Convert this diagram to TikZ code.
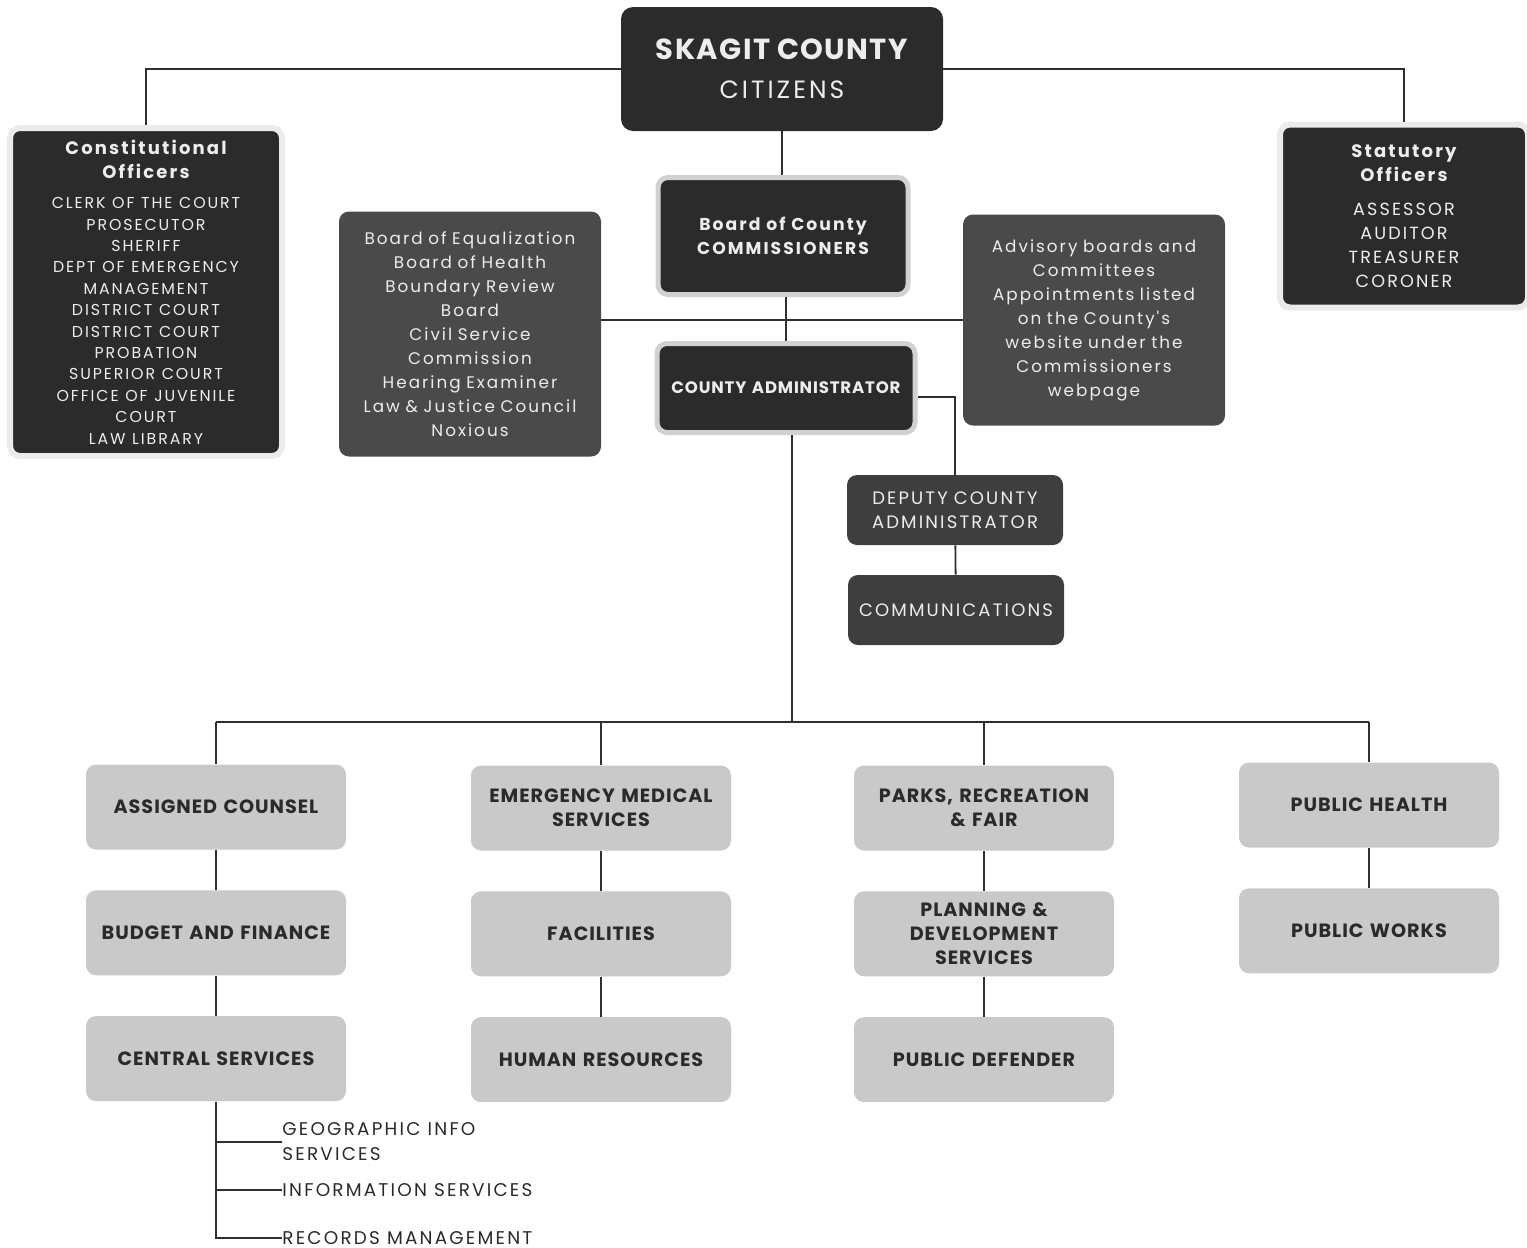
\documentclass[tikz,border=0pt]{standalone}
\usepackage{fontspec}
\setmainfont{Poppins}[LetterSpace=5]
\newfontfamily\widefont{Poppins}[LetterSpace=12]
\usetikzlibrary{positioning}
\definecolor{boxdark}{HTML}{2B2B2B}
\definecolor{boxmid}{HTML}{4A4A4A}
\definecolor{boxdeputy}{HTML}{3E3E3E}
\definecolor{boxlight}{HTML}{C9C9C9}
\definecolor{textlight}{HTML}{EDEDED}
\definecolor{textdark}{HTML}{2A2A2A}
\definecolor{linegray}{HTML}{2F2F2F}

\begin{document}
\begin{tikzpicture}[x=0.5pt, y=-0.5pt, node distance=20pt,
  box/.style={rectangle, rounded corners=5pt, align=center, inner sep=2pt},
  dark/.style={box, fill=boxdark, text=textlight},
  mid/.style={box, fill=boxmid, text=textlight},
  deputybox/.style={box, fill=boxdeputy, text=textlight, minimum width=107pt, minimum height=35pt, text width=104pt, font=\widefont\fontsize{9}{12}\selectfont},
  lite/.style={box, fill=boxlight, text=textdark, minimum width=129.5pt, minimum height=42.5pt, text width=126pt, font=\fontsize{9.6}{12}\selectfont\bfseries},
  glow/.style={draw=black!18, line width=2.5pt},
  halo/.style={draw=black!8, line width=3pt},
  subitem/.style={anchor=west, inner sep=0pt, align=left, text=textdark, font=\widefont\fontsize{9.2}{12.5}\selectfont},
  conn/.style={draw=linegray, line width=0.9pt}]

\useasboundingbox (0,0) rectangle (1527,1248);

% top of the chart
\node (citizens) [dark, minimum width=161pt, minimum height=62pt, text width=157pt, rounded corners=6pt] at (782,69) {{\fontsize{14.5}{19.5}\selectfont\bfseries SKAGIT COUNTY\par}{\widefont\fontsize{12.5}{19.5}\selectfont CITIZENS\par}};
\node (constoff) [dark, halo, minimum width=134.5pt, minimum height=164pt, text width=132pt] at (146,292) {{\widefont\fontsize{9}{12}\selectfont\bfseries Constitutional\\Officers\par}\vspace{4.5pt}{\widefont\fontsize{7.9}{10.7}\selectfont CLERK OF THE COURT\\PROSECUTOR\\SHERIFF\\DEPT OF EMERGENCY\\MANAGEMENT\\DISTRICT COURT\\DISTRICT COURT\\PROBATION\\SUPERIOR COURT\\OFFICE OF JUVENILE\\COURT\\LAW LIBRARY\par}};
\node (statoff) [dark, halo, minimum width=122.5pt, minimum height=91.5pt, text width=120pt] at (1404,216) {{\widefont\fontsize{9}{12}\selectfont\bfseries Statutory\\Officers\par}\vspace{5pt}{\widefont\fontsize{8.8}{12}\selectfont ASSESSOR\\AUDITOR\\TREASURER\\CORONER\par}};
\node (board) [dark, glow, minimum width=124pt, minimum height=58.5pt, text width=121pt, font=\widefont\fontsize{8.6}{12}\selectfont\bfseries] at (783,236) {Board of County\\COMMISSIONERS};
\node (boards) [mid, minimum width=129.5pt, minimum height=122.5pt, text width=127pt, font=\widefont\fontsize{8.4}{12}\selectfont] at (470,334) {Board of Equalization\\Board of Health\\Boundary Review\\Board\\Civil Service\\Commission\\Hearing Examiner\\Law \& Justice Council\\Noxious};
\node (advisory) [mid, minimum width=129.5pt, minimum height=105.5pt, text width=127pt, font=\widefont\fontsize{8.4}{12}\selectfont] at (1094,320) {Advisory boards and\\Committees\\Appointments listed\\on the County's\\website under the\\Commissioners\\webpage};
\node (admin) [dark, glow, minimum width=127pt, minimum height=44.5pt, text width=125pt, font=\fontsize{8.3}{12}\selectfont\bfseries] at (786,388) {COUNTY ADMINISTRATOR};
\node (deputy) [deputybox] at (955,510) {DEPUTY COUNTY\\ADMINISTRATOR};
\node (comms) [deputybox] at (956,610) {COMMUNICATIONS};

% departments
\node (assigned) [lite] at (216,807) {ASSIGNED COUNSEL};
\node (budget) [lite, below=of assigned] {BUDGET AND FINANCE};
\node (central) [lite, below=of budget] {CENTRAL SERVICES};
\node (ems) [lite] at (601,808) {EMERGENCY MEDICAL\\SERVICES};
\node (facilities) [lite, below=of ems] {FACILITIES};
\node (hr) [lite, below=of facilities] {HUMAN RESOURCES};
\node (parks) [lite] at (984,808) {PARKS, RECREATION\\\& FAIR};
\node (planning) [lite, below=of parks] {PLANNING \&\\DEVELOPMENT\\SERVICES};
\node (defender) [lite, below=of planning] {PUBLIC DEFENDER};
\node (health) [lite] at (1369,805) {PUBLIC HEALTH};
\node (works) [lite, below=of health] {PUBLIC WORKS};

% under central services
\node (geo) [subitem] at (282,1142) {GEOGRAPHIC INFO\\SERVICES};
\node (info) [subitem] at (282,1190) {INFORMATION SERVICES};
\node (records) [subitem] at (282,1238) {RECORDS MANAGEMENT};

\coordinate (bus) at (792,722);

\draw[conn] (citizens.west) -| (constoff.north);
\draw[conn] (citizens.east) -| (statoff.north);
\draw[conn] (citizens.south) -- (citizens.south |- board.north);
\draw[conn] (admin.north |- board.south) -- (admin.north);
\draw[conn] (boards.east |- advisory.west) -- (advisory.west);
\draw[conn] ([yshift=-4.5pt]admin.east) -| (deputy.north);
\draw[conn] (deputy) -- (comms);
\draw[conn] (admin.south -| bus) -- (bus);
\draw[conn] (assigned.north |- bus) -- (health.north |- bus);
\foreach \dept in {assigned,ems,parks,health}
  \draw[conn] (\dept.north |- bus) -- (\dept.north);
\draw[conn] (assigned) -- (budget) -- (central);
\draw[conn] (ems) -- (facilities) -- (hr);
\draw[conn] (parks) -- (planning) -- (defender);
\draw[conn] (health) -- (works);
\draw[conn] (central.south) -- (central.south |- records.west) -- (records.west);
\draw[conn] (central.south |- geo.west) -- (geo.west);
\draw[conn] (central.south |- info.west) -- (info.west);
\end{tikzpicture}
\end{document}
